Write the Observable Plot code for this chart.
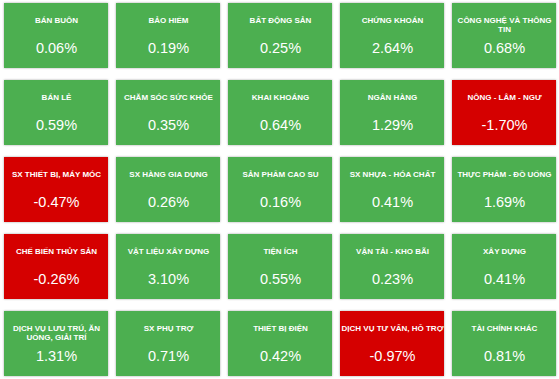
<!DOCTYPE html>
<html><head><meta charset="utf-8">
<script src="https://cdn.jsdelivr.net/npm/d3@7"></script>
<script src="https://cdn.jsdelivr.net/npm/@observablehq/plot@0.6"></script>
<style>
html,body{margin:0;padding:0;background:#fff;}
#chart svg g[aria-label="cell"] rect{filter:drop-shadow(0 0 1px rgba(0,0,0,0.35));}
</style>
</head><body><div id="chart"></div>
<script>
const sectors = [
  "BÁN BUÔN","BẢO HIỂM","BẤT ĐỘNG SẢN","CHỨNG KHOÁN","CÔNG NGHỆ VÀ THÔNG\nTIN",
  "BÁN LẺ","CHĂM SÓC SỨC KHỎE","KHAI KHOÁNG","NGÂN HÀNG","NÔNG - LÂM - NGƯ",
  "SX THIẾT BỊ, MÁY MÓC","SX HÀNG GIA DỤNG","SẢN PHẨM CAO SU","SX NHỰA - HÓA CHẤT","THỰC PHẨM - ĐỒ UỐNG",
  "CHẾ BIẾN THỦY SẢN","VẬT LIỆU XÂY DỰNG","TIỆN ÍCH","VẬN TẢI - KHO BÃI","XÂY DỰNG",
  "DỊCH VỤ LƯU TRÚ, ĂN\nUỐNG, GIẢI TRÍ","SX PHỤ TRỢ","THIẾT BỊ ĐIỆN","DỊCH VỤ TƯ VẤN, HỖ TRỢ","TÀI CHÍNH KHÁC"
];
const changes = [
  0.06, 0.19, 0.25, 2.64, 0.68,
  0.59, 0.35, 0.64, 1.29, -1.70,
  -0.47, 0.26, 0.16, 0.41, 1.69,
  -0.26, 3.10, 0.55, 0.23, 0.41,
  1.31, 0.71, 0.42, -0.97, 0.81
];
const nCols = 5;
const data = sectors.map((s, i) => ({
  sector: s, value: changes[i], col: i % nCols, row: Math.floor(i / nCols)
}));
const idx = d3.range(nCols);
const font = "'Liberation Sans', Arial, sans-serif";
const chart = Plot.plot({
  width: 559, height: 379,
  margin: 0,
  style: {fontFamily: font, background: "#fff"},
  x: {type: "band", domain: idx, range: [2, 557.5], paddingInner: 0.067, paddingOuter: 0, axis: null},
  y: {type: "band", domain: idx, range: [2, 376], paddingInner: 0.156, paddingOuter: 0, axis: null},
  color: {type: "threshold", domain: [0], range: ["#d50000", "#4caf50"], legend: false},
  marks: [
    Plot.cell(data, {x: "col", y: "row", fill: d => d.value, inset: 0}),
    Plot.text(data, {x: "col", y: "row", text: "sector", fill: "white", fontSize: 8, fontWeight: "bold",
      lineAnchor: "top", lineHeight: 1.1, dy: -19.5}),
    Plot.text(data, {x: "col", y: "row", text: d => d.value.toFixed(2) + "%", fill: "white", fontSize: 14.5,
      lineAnchor: "top", dy: 7.2})
  ]
});
document.getElementById("chart").appendChild(chart);
</script>
</body></html>
